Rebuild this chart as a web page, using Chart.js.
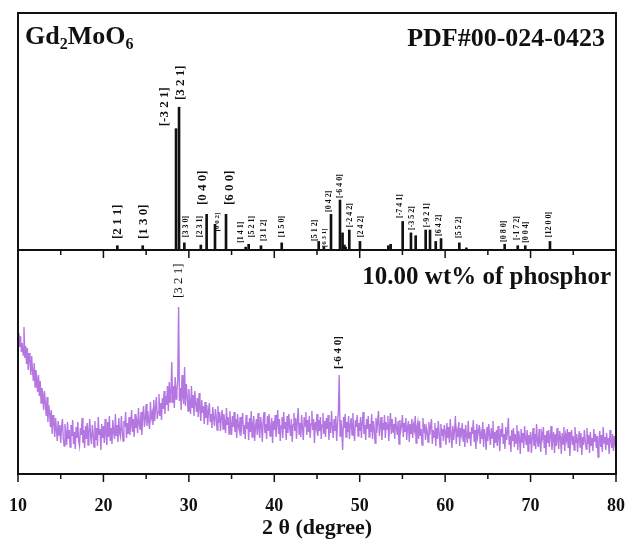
<!DOCTYPE html>
<html>
<head>
<meta charset="utf-8">
<script src="https://cdn.jsdelivr.net/npm/chart.js@4/dist/chart.umd.min.js"></script>
<style>
  html, body { margin: 0; padding: 0; background: #fff; }
  #wrap { position: relative; width: 628px; height: 544px; }
</style>
</head>
<body>
<div id="wrap"><canvas id="xrd" width="628" height="544"></canvas></div>
<script>
// PDF#00-024-0423 stick pattern (2theta, relative intensity)
var pdfPos = [21.63, 24.6, 28.5, 28.85, 29.47, 31.4, 32.08, 33.06, 34.35, 36.65, 37.0, 38.44, 40.87,
    45.2, 45.8, 46.64, 47.69, 47.99, 48.2, 48.35, 48.78, 50.03, 53.35, 53.62, 55.03, 56.0, 56.55,
    57.72, 58.23, 58.9, 59.52, 61.66, 62.48, 66.97, 68.5, 69.38, 72.27];
var pdfInt = [3, 3, 85, 100, 5, 3.5, 25, 18, 25, 2, 4, 3, 5,
    6, 2, 25, 35, 12, 3.5, 2, 14, 6, 3, 4, 20, 12, 10,
    14, 14, 6, 8, 5, 1.5, 4, 3, 3, 6];

// hkl labels on the reference pattern: text, 2theta, intensity at the label foot
var hklText = ['[2 1 1]', '[1 3 0]', '[-3 2 1]', '[3 2 1]', '[3 3 0]', '[2 3 1]', '[0 4 0]', '[0 0 2]',
    '[6 0 0]', '[1 4 1]', '[5 2 1]', '[3 1 2]', '[1 5 0]', '[5 1 2]', '[6 3 1]', '[0 4 2]', '[-6 4 0]',
    '[-2 4 2]', '[2 4 2]', '[-7 4 1]', '[-3 5 2]', '[-9 2 1]', '[6 4 2]', '[5 5 2]', '[0 8 0]',
    '[-1 7 2]', '[0 0 4]', '[12 0 0]'];
var hklPos = [21.7, 24.75, 27.2, 29.08, 29.67, 31.3, 31.66, 33.3,
    34.8, 36.1, 37.4, 38.8, 40.9, 44.77, 45.8, 46.4, 47.7,
    48.86, 50.15, 54.7, 56.1, 57.9, 59.3, 61.6, 66.9,
    68.4, 69.46, 72.2];
var hklFoot = [7.7, 7.7, 86.7, 105, 9, 9, 31.5, 13,
    31.5, 5, 9, 6.3, 9, 6.3, 2, 26.6, 36.4,
    16, 9, 22.4, 14, 16, 9.8, 8.4, 5.6,
    7, 5, 9];
var bigHkl = ['[2 1 1]', '[1 3 0]', '[-3 2 1]', '[3 2 1]', '[0 4 0]', '[6 0 0]'];

// measured pattern, 10.00 wt% of phosphor, 10 to 80 deg in 0.1 deg steps (one row per degree)
var scanStart = 10, scanStep = 0.1;
var scanInt = [
    136, 141, 127, 138, 122, 131, 119, 147, 116, 128,
    110, 126, 104, 121, 115, 99, 118, 103, 93, 111,
    87, 104, 96, 82, 99, 78, 93, 71, 86, 80,
    64, 83, 71, 58, 77, 52, 69, 61, 47, 64,
    40, 59, 52, 37, 56, 44, 33, 53, 39, 49,
    31, 47, 55, 36, 28, 50, 41, 29, 52, 35,
    44, 27, 49, 38, 54, 30, 42, 25, 47, 36,
    52, 33, 28, 46, 39, 56, 31, 44, 26, 48,
    35, 51, 29, 43, 55, 37, 30, 49, 41, 27,
    53, 34, 46, 28, 57, 39, 45, 24, 50, 36,
    48, 31, 55, 40, 29, 52, 37, 58, 33, 46,
    30, 54, 42, 35, 60, 38, 49, 32, 56, 41,
    37, 58, 44, 33, 53, 47, 62, 36, 51, 40,
    57, 39, 48, 64, 42, 55, 37, 60, 46, 52,
    41, 66, 50, 44, 62, 39, 58, 68, 47, 55,
    70, 48, 63, 52, 45, 72, 56, 61, 49, 74,
    53, 67, 77, 55, 62, 80, 58, 71, 54, 76,
    65, 83, 60, 78, 69, 88, 63, 92, 72, 81,
    112, 71, 88, 66, 97, 75, 84, 94, 167, 73,
    86, 64, 99, 77, 70, 107, 68, 90, 79, 63,
    85, 72, 60, 88, 66, 79, 58, 83, 70, 62,
    76, 57, 81, 65, 53, 74, 61, 68, 50, 72,
    56, 69, 49, 63, 71, 52, 60, 46, 67, 55,
    48, 65, 58, 44, 68, 51, 62, 43, 57, 64,
    45, 60, 52, 41, 66, 49, 57, 40, 63, 50,
    39, 58, 47, 62, 42, 55, 36, 60, 48, 43,
    57, 38, 53, 61, 40, 49, 35, 59, 45, 52,
    34, 56, 42, 63, 37, 50, 58, 33, 47, 55,
    39, 61, 44, 36, 57, 49, 32, 54, 62, 41,
    50, 35, 58, 43, 60, 38, 46, 56, 31, 53,
    44, 59, 37, 51, 64, 40, 55, 33, 48, 57,
    36, 62, 45, 52, 34, 58, 41, 60, 47, 38,
    55, 32, 49, 61, 43, 56, 35, 53, 66, 40,
    51, 37, 59, 45, 34, 57, 48, 62, 39, 54,
    42, 58, 36, 50, 63, 44, 55, 31, 52, 46,
    60, 38, 54, 43, 57, 35, 49, 61, 40, 53,
    37, 56, 45, 59, 34, 52, 41, 63, 47, 36,
    55, 43, 58, 33, 50, 62, 99, 38, 54, 44,
    24, 57, 46, 60, 37, 52, 42, 58, 35, 49,
    56, 39, 61, 44, 33, 54, 47, 59, 38, 51,
    43, 57, 36, 52, 62, 40, 49, 34, 55, 45,
    58, 37, 50, 42, 60, 35, 53, 46, 31, 56,
    41, 54, 63, 38, 48, 57, 34, 51, 44, 59,
    36, 52, 45, 58, 33, 49, 61, 40, 55, 42,
    50, 35, 57, 46, 39, 53, 30, 54, 43, 48,
    59, 37, 51, 42, 56, 34, 47, 53, 32, 50,
    40, 55, 36, 49, 44, 58, 31, 47, 52, 35,
    53, 38, 45, 29, 56, 41, 50, 34, 47, 43,
    32, 52, 39, 48, 55, 30, 44, 37, 51, 28,
    46, 35, 53, 41, 27, 50, 38, 45, 33, 49,
    42, 29, 51, 36, 47, 31, 55, 39, 26, 48,
    34, 44, 58, 30, 43, 37, 52, 28, 46, 40,
    51, 33, 45, 27, 49, 38, 31, 53, 36, 42,
    28, 47, 40, 54, 32, 44, 25, 50, 37, 43,
    49, 30, 41, 35, 52, 27, 45, 38, 24, 47,
    33, 50, 39, 29, 46, 36, 53, 26, 42, 31,
    44, 28, 48, 35, 23, 45, 37, 51, 30, 40,
    25, 47, 34, 42, 56, 29, 38, 22, 44, 33,
    46, 27, 40, 31, 49, 24, 43, 36, 20, 45,
    32, 41, 26, 48, 35, 29, 44, 23, 39, 30,
    42, 21, 37, 46, 28, 40, 25, 50, 33, 27,
    45, 30, 22, 41, 36, 47, 26, 39, 19, 43,
    31, 44, 27, 38, 48, 24, 35, 42, 21, 40,
    28, 46, 33, 25, 43, 37, 20, 41, 30, 47,
    23, 39, 34, 45, 26, 42, 18, 36, 44, 29,
    38, 24, 47, 31, 40, 22, 35, 43, 27, 41,
    19, 37, 29, 44, 33, 25, 46, 30, 39, 21,
    42, 28, 36, 23, 45, 32, 40, 26, 38, 17,
    34, 43, 27, 39, 22, 47, 31, 37, 24, 41,
    29, 36, 20, 44, 33, 26, 40, 23, 38, 30,
    35
];
// peaks marked on the measured pattern
var peakText = ['[3 2 1]', '[-6 4 0]'];
var peakPos = [28.75, 47.45];
var peakFoot = [176, 105];

var xTicks = [10, 20, 30, 40, 50, 60, 70, 80];

var serif = "'Liberation Serif', 'Times New Roman', serif";

var sticks = pdfPos.map(function (p, i) { return {x: p, y: pdfInt[i]}; });
var scan = scanInt.map(function (v, i) { return {x: +(scanStart + i * scanStep).toFixed(2), y: v}; });

var framePlugin = {
    id: 'frame',
    afterDraw: function (chart) {
        var ctx = chart.ctx, a = chart.chartArea;
        var x = chart.scales.x, yTop = chart.scales.yTop, yBot = chart.scales.yBot;
        var mid = yTop.bottom;
        ctx.save();
        ctx.strokeStyle = '#111';
        ctx.lineWidth = 2;
        ctx.strokeRect(a.left, a.top, a.right - a.left, a.bottom - a.top);
        ctx.beginPath();
        ctx.moveTo(a.left, mid);
        ctx.lineTo(a.right, mid);
        ctx.stroke();

        // tick marks, majors every 10, minors every 5
        ctx.lineWidth = 1.5;
        for (var v = 10; v <= 80; v += 5) {
            var px = x.getPixelForValue(v);
            var major = v % 10 === 0;
            ctx.beginPath();
            ctx.moveTo(px, mid);
            ctx.lineTo(px, mid + (major ? 8 : 5));
            ctx.moveTo(px, a.bottom);
            ctx.lineTo(px, a.bottom + (major ? 8 : 5));
            ctx.stroke();
        }

        // hkl labels of the reference pattern
        ctx.fillStyle = '#111';
        ctx.textBaseline = 'middle';
        ctx.textAlign = 'left';
        hklText.forEach(function (t, i) {
            var big = bigHkl.indexOf(t) >= 0;
            var size = big ? 13 : (t === '[6 3 1]' || t === '[0 0 2]' ? 7 : 8);
            ctx.font = 'bold ' + size + 'px ' + serif;
            ctx.save();
            ctx.translate(x.getPixelForValue(hklPos[i]), yTop.getPixelForValue(hklFoot[i]));
            ctx.rotate(-Math.PI / 2);
            ctx.fillText(t, 0, 0);
            ctx.restore();
        });
        peakText.forEach(function (t, i) {
            ctx.font = (i === 0 ? '13px ' : 'bold 11px ') + serif;
            ctx.save();
            ctx.translate(x.getPixelForValue(peakPos[i]), yBot.getPixelForValue(peakFoot[i]));
            ctx.rotate(-Math.PI / 2);
            ctx.fillText(t, 0, 0);
            ctx.restore();
        });

        // panel captions
        ctx.textBaseline = 'alphabetic';
        var gx = a.left + 7, gy = a.top + 31;
        var parts = [['Gd', 26, 0], ['2', 16, 5], ['MoO', 26, 0], ['6', 16, 5]];
        parts.forEach(function (p) {
            ctx.font = 'bold ' + p[1] + 'px ' + serif;
            ctx.fillText(p[0], gx, gy + p[2]);
            gx += ctx.measureText(p[0]).width;
        });
        ctx.textAlign = 'right';
        ctx.font = 'bold 26px ' + serif;
        ctx.fillText('PDF#00-024-0423', a.right - 11, a.top + 33);
        ctx.font = 'bold 25px ' + serif;
        ctx.fillText('10.00 wt% of phosphor', a.right - 5, mid + 34);
        ctx.restore();
    }
};

new Chart(document.getElementById('xrd'), {
    type: 'line',
    data: {
        datasets: [{
            type: 'line',
            label: '10.00 wt% of phosphor',
            data: scan,
            yAxisID: 'yBot',
            borderColor: 'rgba(172, 104, 222, 0.9)',
            borderWidth: 1.4,
            pointRadius: 0,
            tension: 0
        }, {
            type: 'bar',
            label: 'PDF#00-024-0423',
            data: sticks,
            yAxisID: 'yTop',
            backgroundColor: '#111',
            barThickness: 2,
            grouped: false
        }]
    },
    options: {
        responsive: false,
        animation: false,
        layout: {padding: {left: 18, right: 12, top: 13, bottom: 0}},
        plugins: {legend: {display: false}, tooltip: {enabled: false}},
        scales: {
            x: {
                type: 'linear',
                min: 10,
                max: 80,
                offset: false,
                afterFit: function (s) { s.height = 70; s.paddingLeft = 0; s.paddingRight = 0; },
                afterBuildTicks: function (s) { s.ticks = xTicks.map(function (v) { return {value: v}; }); },
                grid: {display: false, drawTicks: false},
                border: {display: false},
                ticks: {
                    color: '#111',
                    padding: 22,
                    maxRotation: 0,
                    font: {family: serif, size: 18, weight: 'bold'}
                },
                title: {
                    display: true,
                    text: '2 θ (degree)',
                    color: '#111',
                    padding: {top: 0, bottom: 2},
                    font: {family: serif, size: 22, weight: 'bold'}
                }
            },
            yBot: {
                type: 'linear',
                position: 'left',
                stack: 'panels',
                stackWeight: 224,
                min: 0,
                max: 224,
                display: false
            },
            yTop: {
                type: 'linear',
                position: 'left',
                stack: 'panels',
                stackWeight: 237,
                min: 0,
                max: 166,
                display: false
            }
        }
    },
    plugins: [framePlugin]
});
</script>
</body>
</html>
